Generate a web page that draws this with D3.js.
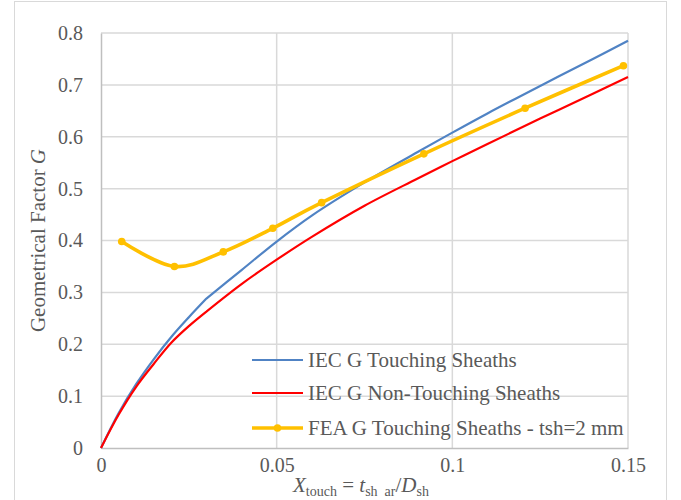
<!DOCTYPE html>
<html>
<head>
<meta charset="utf-8">
<script src="https://cdn.jsdelivr.net/npm/d3@7"></script>
<style>
  html, body { margin: 0; padding: 0; background: #fff; }
  svg { display: block; }
  svg text { font-family: "Liberation Serif", "Times New Roman", serif; }
</style>
</head>
<body>
<svg id="chart" width="681" height="500"></svg>
<script>
// Relative sheath thickness X_touch = t_sh_ar / D_sh
const xIEC = [0, 0.005, 0.01, 0.015, 0.02, 0.025, 0.03, 0.04, 0.05, 0.06, 0.075, 0.09, 0.1, 0.11, 0.125, 0.14, 0.15];
// IEC geometrical factor, touching sheaths
const gTouching = [0, 0.067, 0.123, 0.171, 0.214, 0.252, 0.288, 0.343, 0.398, 0.448, 0.512, 0.570, 0.608, 0.645, 0.698, 0.750, 0.785];
// IEC geometrical factor, non-touching sheaths
const gNonTouching = [0, 0.064, 0.118, 0.162, 0.203, 0.235, 0.263, 0.316, 0.363, 0.407, 0.467, 0.519, 0.553, 0.586, 0.635, 0.683, 0.715];

// FEA results, touching sheaths, tsh = 2 mm
const xFEA = [0.0059, 0.0209, 0.0348, 0.0489, 0.0628, 0.0919, 0.1207, 0.1487];
const gFEA = [0.398, 0.350, 0.378, 0.4235, 0.473, 0.567, 0.655, 0.737];

const xTicks = [0, 0.05, 0.1, 0.15];
const yTicks = [0, 0.1, 0.2, 0.3, 0.4, 0.5, 0.6, 0.7, 0.8];

const seriesNames = ["IEC G Touching Sheaths", "IEC G Non-Touching Sheaths", "FEA G Touching Sheaths - tsh=2 mm"];
const seriesColors = ["#5083C4", "#FF0000", "#FFC000"];

const svg = d3.select("#chart");
const textColor = "#595959";
const gridColor = "#d9d9d9";
const axisColor = "#bfbfbf";
const serif = '"Liberation Serif", "Times New Roman", serif';

const plot = { left: 101, right: 628, top: 33, bottom: 448 };

const x = d3.scaleLinear().domain([0, 0.15]).range([plot.left, plot.right]);
const y = d3.scaleLinear().domain([0, 0.8]).range([plot.bottom, plot.top]);

// chart frame
svg.append("rect")
  .attr("x", 14.5).attr("y", 1.5)
  .attr("width", 652).attr("height", 510)
  .attr("fill", "#fff")
  .attr("stroke", gridColor).attr("stroke-width", 1);

// gridlines
svg.append("g").selectAll("line")
  .data(yTicks.slice(1))
  .join("line")
  .attr("x1", plot.left).attr("x2", plot.right)
  .attr("y1", d => y(d)).attr("y2", d => y(d))
  .attr("stroke", gridColor).attr("stroke-width", 1.5);

svg.append("g").selectAll("line")
  .data(xTicks.slice(1))
  .join("line")
  .attr("x1", d => x(d)).attr("x2", d => x(d))
  .attr("y1", plot.top).attr("y2", plot.bottom)
  .attr("stroke", gridColor).attr("stroke-width", 1.5);

// axes
const fmt = d => d === 0 ? "0" : String(+d.toFixed(2));

const yAxis = svg.append("g")
  .attr("transform", `translate(${plot.left},0)`)
  .call(d3.axisLeft(y).tickValues(yTicks).tickFormat(fmt).tickSize(0).tickPadding(18));
const xAxis = svg.append("g")
  .attr("transform", `translate(0,${plot.bottom})`)
  .call(d3.axisBottom(x).tickValues(xTicks).tickFormat(fmt).tickSize(0).tickPadding(10));

[yAxis, xAxis].forEach(a => {
  a.attr("font-family", serif).attr("font-size", 20);
  a.select(".domain").attr("stroke", axisColor).attr("stroke-width", 1.5);
  a.selectAll("text").attr("fill", textColor);
});

// series lines: smooth segments, joined at the 0.03 break of the IEC formula
const breakIdx = xIEC.indexOf(0.03);
const iecLine = d3.line()
  .x(d => x(d[0]))
  .y(d => y(d[1]))
  .curve(d3.curveCatmullRom.alpha(0.5));
const iecPath = vals => {
  const pts = xIEC.map((v, i) => [v, vals[i]]);
  return iecLine(pts.slice(0, breakIdx + 1)) + iecLine(pts.slice(breakIdx));
};

svg.append("path")
  .attr("d", iecPath(gTouching))
  .attr("fill", "none")
  .attr("stroke", seriesColors[0]).attr("stroke-width", 2.2)
  .attr("stroke-linejoin", "round");

svg.append("path")
  .attr("d", iecPath(gNonTouching))
  .attr("fill", "none")
  .attr("stroke", seriesColors[1]).attr("stroke-width", 2.2)
  .attr("stroke-linejoin", "round");

const feaPts = xFEA.map((v, i) => [v, gFEA[i]]);
svg.append("path")
  .attr("d", d3.line().x(d => x(d[0])).y(d => y(d[1])).curve(d3.curveCatmullRom.alpha(0))(feaPts))
  .attr("fill", "none")
  .attr("stroke", seriesColors[2]).attr("stroke-width", 3.6)
  .attr("stroke-linejoin", "round").attr("stroke-linecap", "round");

svg.append("g").selectAll("circle")
  .data(feaPts)
  .join("circle")
  .attr("cx", d => x(d[0])).attr("cy", d => y(d[1]))
  .attr("r", 3.8)
  .attr("fill", seriesColors[2]);

// axis titles
svg.append("text")
  .attr("transform", `translate(45,${(plot.top + plot.bottom) / 2}) rotate(-90)`)
  .attr("text-anchor", "middle")
  .attr("fill", textColor)
  .style("font-size", "21px")
  .call(t => {
    t.append("tspan").text("Geometrical Factor ");
    t.append("tspan").attr("font-style", "italic").text("G");
  });

const xt = svg.append("text")
  .attr("x", 293).attr("y", 492)
  .attr("fill", textColor)
  .style("font-size", "21px");
xt.append("tspan").attr("font-style", "italic").text("X");
xt.append("tspan").attr("dy", 4).style("font-size", "14px").text("touch");
xt.append("tspan").attr("dy", -4).text(" = ");
xt.append("tspan").attr("font-style", "italic").text("t");
xt.append("tspan").attr("dy", 4).style("font-size", "14px").text("sh\u00a0 ar");
xt.append("tspan").attr("dy", -4).text("/");
xt.append("tspan").attr("font-style", "italic").text("D");
xt.append("tspan").attr("dy", 4).style("font-size", "14px").text("sh");

// legend
const legendY = [360, 393, 428];
const legend = svg.append("g");
seriesNames.forEach((name, i) => {
  const g = legend.append("g").attr("transform", `translate(252,${legendY[i]})`);
  g.append("line")
    .attr("x1", 0).attr("x2", 51).attr("y1", 0).attr("y2", 0)
    .attr("stroke", seriesColors[i])
    .attr("stroke-width", i === 2 ? 3.6 : 2.2);
  if (i === 2) {
    g.append("circle").attr("cx", 25.5).attr("cy", 0).attr("r", 3.8).attr("fill", seriesColors[i]);
  }
  g.append("text")
    .attr("x", 56).attr("y", 0).attr("dy", "0.35em")
    .attr("fill", textColor)
    .style("font-size", "21px")
    .text(name);
});
</script>
</body>
</html>
